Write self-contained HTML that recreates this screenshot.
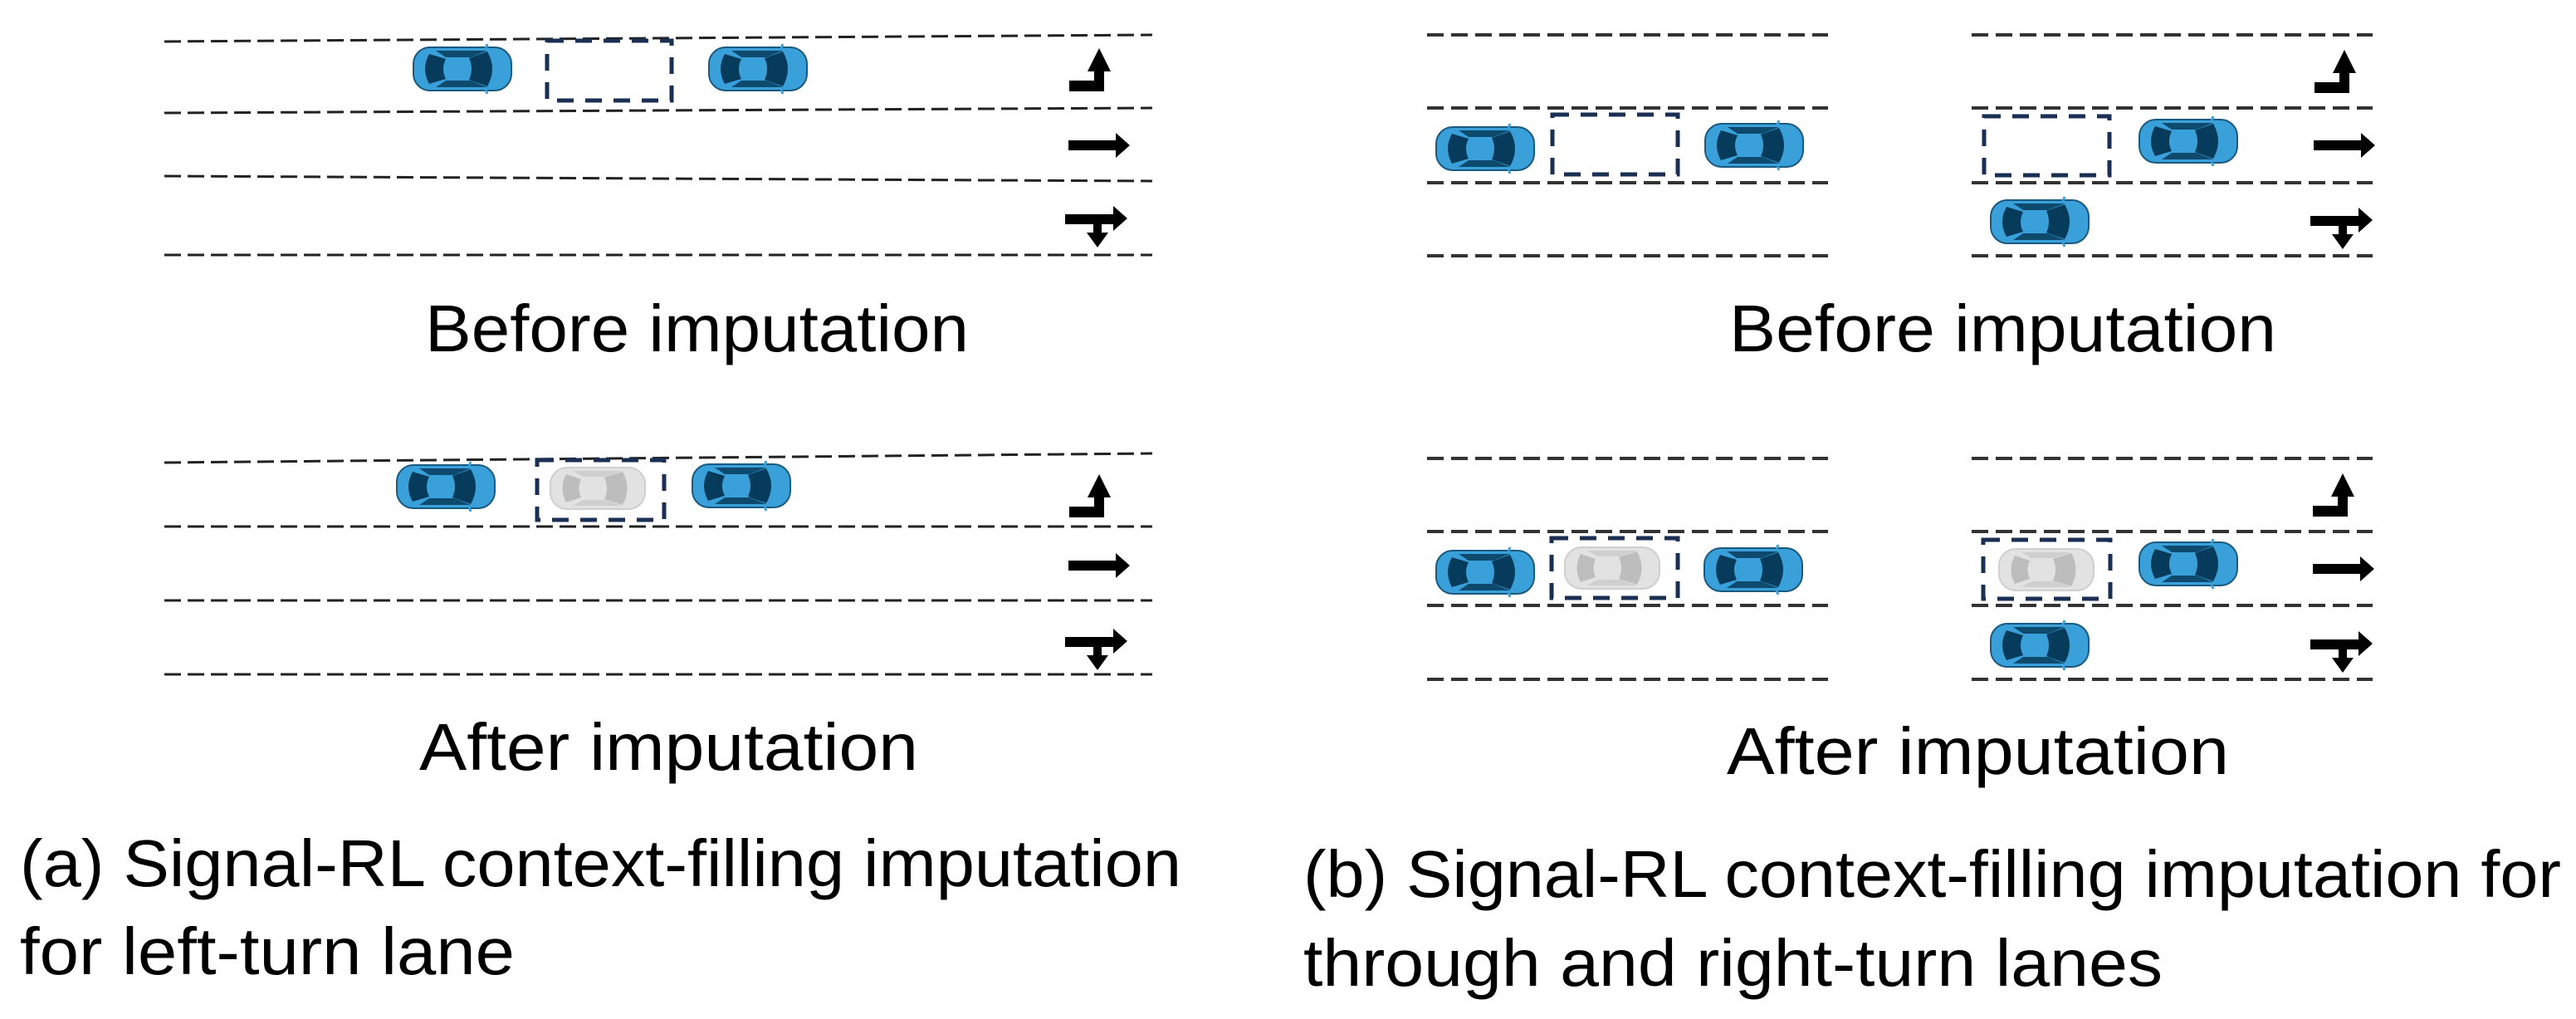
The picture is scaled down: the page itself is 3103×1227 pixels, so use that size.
<!DOCTYPE html>
<html><head><meta charset="utf-8"><style>html,body{margin:0;padding:0;background:#fff}svg{display:block}</style></head>
<body>
<svg width="3103" height="1227" viewBox="0 0 3103 1227" xmlns="http://www.w3.org/2000/svg">
<defs>
<g id="car">
 <rect x="1" y="1" width="118" height="52" rx="20" fill="#3aa0da" stroke="#1a5a80" stroke-width="2"/>
 <path d="M20,9 Q10,27 20,45 L40,39 Q34,27 40,15 Z" fill="#063b5b"/>
 <path d="M68,14 L90,6 Q102,27 90,48 L68,40 Q74,27 68,14 Z" fill="#063b5b"/>
 <path d="M28,5 L90,5 L70,13 L40,13 Z" fill="#0d4a6e"/>
 <path d="M28,49 L90,49 L70,41 L40,41 Z" fill="#0d4a6e"/>
 <path d="M88,2 L90,-3 M88,52 L90,57" stroke="#3aa0da" stroke-width="3"/>
</g>
<g id="gcar">
 <rect x="1" y="1" width="114" height="50" rx="20" fill="#e2e2e2" stroke="#cfcfcf" stroke-width="2"/>
 <path d="M20,9 Q11,26 20,43 L38,37 Q33,26 38,15 Z" fill="#bdbdbd"/>
 <path d="M66,13 L88,6 Q99,26 88,46 L66,39 Q72,26 66,13 Z" fill="#bdbdbd"/>
 <path d="M28,5 L88,5 L68,12 L40,12 Z" fill="#cfcfcf"/>
 <path d="M28,47 L88,47 L68,40 L40,40 Z" fill="#cfcfcf"/>
</g>
<path id="lt" d="M0,39 L30,39 L30,28 L22,28 L36,0 L50,28 L42,28 L42,52 L0,52 Z" fill="#000"/>
<path id="th" d="M0,9 L57,9 L57,0 L74,15 L57,30 L57,21 L0,21 Z" fill="#000"/>
<path id="rt" d="M0,10 L58,10 L58,0 L75,15 L58,30 L58,22 L44,22 L44,32 L52,32 L39,50 L26,32 L34,32 L34,22 L0,22 Z" fill="#000"/>
</defs>

<g stroke="#222" stroke-width="3" stroke-dasharray="20 8" fill="none">
 <line x1="198" y1="50" x2="1388" y2="42"/>
 <line x1="198" y1="136" x2="1388" y2="130"/>
 <line x1="198" y1="212" x2="1388" y2="218"/>
 <line x1="198" y1="307" x2="1388" y2="307"/>
 <line x1="198" y1="557" x2="1388" y2="546"/>
 <line x1="198" y1="634" x2="1388" y2="634"/>
 <line x1="198" y1="723" x2="1388" y2="723"/>
 <line x1="198" y1="812" x2="1388" y2="812"/>
</g>
<g stroke="#333" stroke-width="4" stroke-dasharray="20 9" fill="none">
 <line x1="1719" y1="42" x2="2202" y2="42"/>
 <line x1="1719" y1="130" x2="2202" y2="130"/>
 <line x1="1719" y1="220" x2="2202" y2="220"/>
 <line x1="1719" y1="308" x2="2202" y2="308"/>
 <line x1="2375" y1="42" x2="2858" y2="42"/>
 <line x1="2375" y1="130" x2="2858" y2="130"/>
 <line x1="2375" y1="220" x2="2858" y2="220"/>
 <line x1="2375" y1="308" x2="2858" y2="308"/>
 <line x1="1719" y1="552" x2="2202" y2="552"/>
 <line x1="1719" y1="640" x2="2202" y2="640"/>
 <line x1="1719" y1="729" x2="2202" y2="729"/>
 <line x1="1719" y1="818" x2="2202" y2="818"/>
 <line x1="2375" y1="552" x2="2858" y2="552"/>
 <line x1="2375" y1="640" x2="2858" y2="640"/>
 <line x1="2375" y1="729" x2="2858" y2="729"/>
 <line x1="2375" y1="818" x2="2858" y2="818"/>
</g>

<g stroke="#1b2f55" stroke-width="5" stroke-dasharray="20 14" fill="none">
 <rect x="659" y="49" width="150" height="72"/>
 <rect x="647" y="554" width="153" height="72"/>
 <rect x="1870" y="138" width="151" height="72"/>
 <rect x="2390" y="140" width="151" height="71"/>
 <rect x="1869" y="648" width="152" height="72"/>
 <rect x="2389" y="650" width="153" height="71"/>
</g>

<use href="#car" x="497" y="56"/>
<use href="#car" x="853" y="56"/>
<use href="#car" x="477" y="559"/>
<use href="#gcar" x="662" y="562"/>
<use href="#car" x="833" y="558"/>
<use href="#car" x="1729" y="152"/>
<use href="#car" x="2053" y="148"/>
<use href="#car" x="2576" y="143"/>
<use href="#car" x="2397" y="240"/>
<use href="#car" x="1729" y="662"/>
<use href="#gcar" x="1884" y="658"/>
<use href="#car" x="2052" y="659"/>
<use href="#gcar" x="2407" y="660"/>
<use href="#car" x="2576" y="652"/>
<use href="#car" x="2397" y="750"/>

<use href="#lt" x="1288" y="58"/>
<use href="#th" x="1287" y="160"/>
<use href="#rt" x="1283" y="248"/>
<use href="#lt" x="1288" y="571"/>
<use href="#th" x="1287" y="666"/>
<use href="#rt" x="1283" y="757"/>
<use href="#lt" x="2788" y="60"/>
<use href="#th" x="2787" y="160"/>
<use href="#rt" x="2783" y="250"/>
<use href="#lt" x="2786" y="570"/>
<use href="#th" x="2786" y="670"/>
<use href="#rt" x="2783" y="760"/>

<g font-family="'Liberation Sans', sans-serif" font-size="80" fill="#000">
 <text x="512" y="423" textLength="655" lengthAdjust="spacingAndGlyphs">Before imputation</text>
 <text x="2083" y="423" textLength="659" lengthAdjust="spacingAndGlyphs">Before imputation</text>
 <text x="505" y="927" textLength="601" lengthAdjust="spacingAndGlyphs">After imputation</text>
 <text x="2080" y="932" textLength="605" lengthAdjust="spacingAndGlyphs">After imputation</text>
 <text x="24" y="1067" textLength="1399" lengthAdjust="spacingAndGlyphs">(a)  Signal-RL context-filling imputation</text>
 <text x="24" y="1173" textLength="596" lengthAdjust="spacingAndGlyphs">for left-turn lane</text>
 <text x="1570" y="1080" textLength="1515" lengthAdjust="spacingAndGlyphs">(b) Signal-RL context-filling imputation for</text>
 <text x="1570" y="1187" textLength="1035" lengthAdjust="spacingAndGlyphs">through and right-turn lanes</text>
</g>
</svg>
</body></html>
